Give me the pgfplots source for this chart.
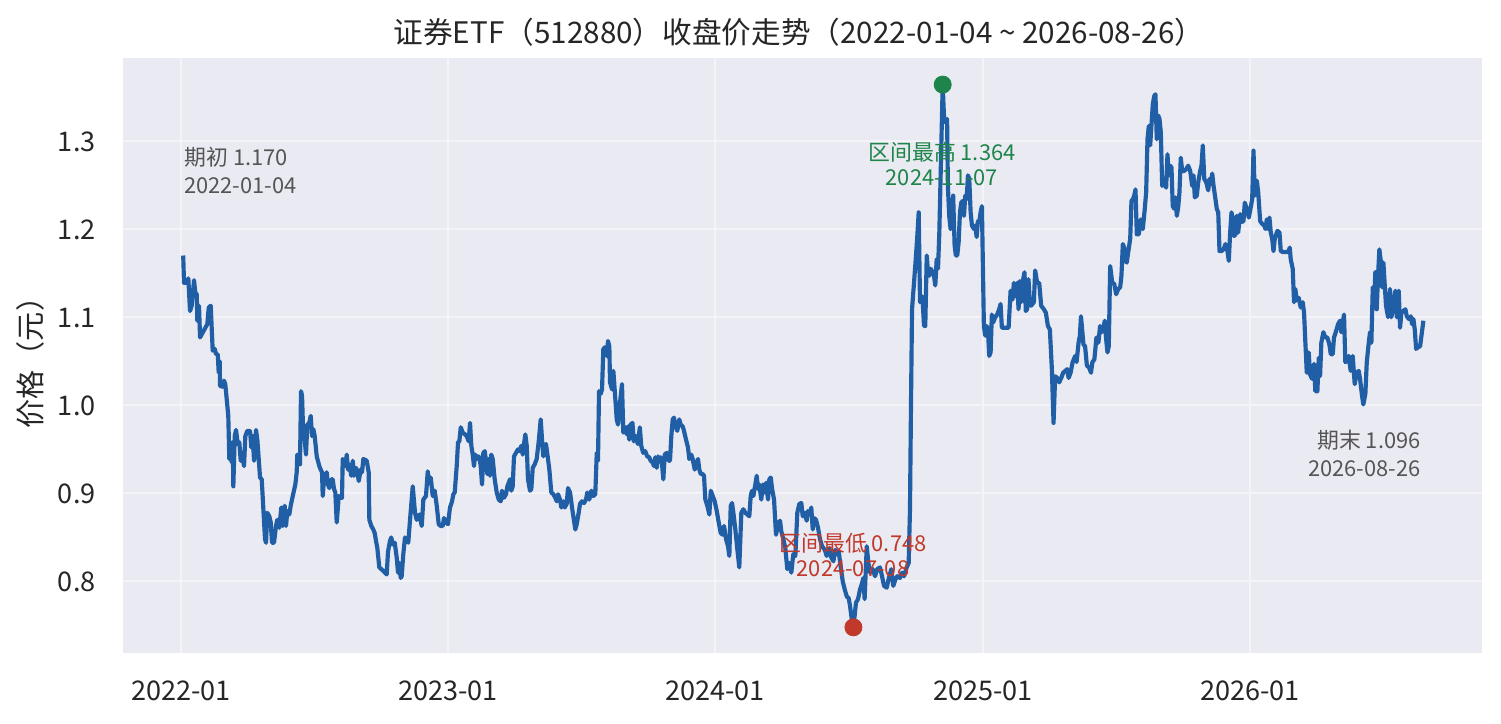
\documentclass[border=0pt]{standalone}
\usepackage{pgfplots}
\pgfplotsset{compat=1.18}
\usepackage{fontspec}
\setmainfont{Noto Sans CJK SC}
\definecolor{bg}{RGB}{234,234,242}
\definecolor{gridc}{RGB}{244,244,248}
\definecolor{lineblue}{RGB}{32,94,166}
\definecolor{hi}{RGB}{30,132,73}
\definecolor{lo}{RGB}{192,57,43}
\definecolor{txt}{RGB}{38,38,38}
\definecolor{ann}{RGB}{85,85,85}
\newcommand\tickfont{\fontsize{13bp}{15.6bp}\selectfont}
\newcommand\annfont{\fontsize{10.5bp}{13.44bp}\selectfont}
\newcommand\annfontb{\fontsize{10.5bp}{12bp}\selectfont}
\begin{document}
\begin{tikzpicture}
\useasboundingbox (-59.04bp,-33.94bp) rectangle (661.44bp,313.58bp);
\begin{axis}[
  at={(0,0)}, anchor=south west,
  scale only axis, width=652.32bp, height=285.74bp,
  xmin=-79.3, xmax=1778.1, ymin=0.7185, ymax=1.3942,
  axis background/.style={fill=bg},
  axis line style={draw=none},
  major tick length=0pt,
  grid=major, major grid style={draw=gridc, line width=0.96bp},
  xtick={0,365,730,1096,1461},
  xticklabels={2022-01,2023-01,2024-01,2025-01,2026-01},
  ytick={0.8,0.9,1.0,1.1,1.2,1.3},
  /pgf/number format/fixed,
  /pgf/number format/fixed zerofill,
  /pgf/number format/precision=1,
  /pgf/number format/assume math mode=true,
  ticklabel style={font=\tickfont, text=txt},
  xticklabel style={anchor=base, inner sep=0pt, yshift=-22.56bp},
  yticklabel style={anchor=base east, inner sep=0pt, xshift=-12.96bp, yshift=-4.9bp},
  clip=false,
]
\addplot[draw=lineblue, line width=2bp, line join=round, mark=none] table {
x y
3 1.170
4.1 1.139
7.8 1.139
10.0 1.144
12.3 1.107
14.6 1.113
17.8 1.142
19.5 1.128
21.5 1.126
22.3 1.096
24.6 1.113
26.0 1.077
35.9 1.092
37.9 1.111
40.6 1.113
43.3 1.062
46.1 1.064
47.8 1.058
50.2 1.058
51.5 1.037
52.9 1.050
53.3 1.022
57.0 1.021
58.8 1.028
60.5 1.024
64.6 0.988
66.0 0.939
67.9 0.957
69.3 0.935
70.7 0.958
71.5 0.908
73.4 0.965
75.2 0.972
77.5 0.956
79.7 0.958
81.6 0.937
83.4 0.946
86.1 0.931
87.9 0.965
90.6 0.971
94.3 0.971
96.1 0.952
98.0 0.965
99.8 0.937
102.5 0.972
104.3 0.961
108.0 0.918
110.3 0.916
114.8 0.848
116.2 0.844
117.9 0.878
120.7 0.874
122.6 0.867
124.4 0.844
127.1 0.844
129.8 0.863
131.6 0.870
134.3 0.861
137.1 0.884
139.0 0.863
141.7 0.886
143.5 0.863
145.3 0.880
148.0 0.876
149.9 0.886
152.7 0.897
156.2 0.910
158.1 0.924
158.9 0.944
160.9 0.933
162.6 0.933
164.0 1.016
165.4 1.011
167.1 0.965
169.1 0.961
170.8 0.944
172.6 0.978
175.3 0.980
177.3 0.988
179.0 0.965
180.8 0.973
182.7 0.965
185.5 0.942
189.0 0.931
190.9 0.927
192.7 0.924
193.7 0.897
195.4 0.916
197.2 0.918
199.1 0.924
200.9 0.910
202.7 0.906
205.4 0.916
207.3 0.916
209.1 0.905
210.9 0.901
212.8 0.867
214.6 0.886
215.5 0.897
218.3 0.895
220.0 0.895
221.0 0.939
222.8 0.937
224.5 0.931
226.5 0.944
228.2 0.927
230.0 0.933
232.7 0.920
234.7 0.937
236.4 0.920
239.2 0.929
241.0 0.925
242.9 0.914
245.6 0.927
247.4 0.924
249.2 0.939
251.9 0.938
253.8 0.937
256.5 0.924
257.4 0.870
260.1 0.863
262.8 0.859
264.7 0.855
266.5 0.846
268.3 0.838
271.0 0.816
276.5 0.812
281.1 0.808
282.9 0.834
285.6 0.846
287.4 0.850
289.3 0.842
292.1 0.844
294.8 0.827
296.6 0.810
298.3 0.821
300.3 0.804
301.6 0.806
303.8 0.831
306.1 0.850
310.6 0.844
313.0 0.870
316.7 0.908
319.8 0.878
322.1 0.870
325.7 0.876
329.0 0.863
331.2 0.893
334.8 0.897
337.2 0.925
339.3 0.912
341.3 0.918
344.0 0.897
346.7 0.903
349.5 0.886
352.2 0.865
354.9 0.863
357.7 0.863
359.4 0.872
362.2 0.867
364.9 0.865
367.6 0.884
370.4 0.891
372.2 0.899
374.1 0.901
376.8 0.931
378.6 0.958
380.4 0.959
382.3 0.975
385.0 0.969
388.1 0.967
390.5 0.965
393.2 0.959
395.0 0.980
396.8 0.954
398.7 0.944
400.4 0.931
402.2 0.944
404.1 0.939
405.9 0.942
407.7 0.941
409.6 0.931
411.4 0.910
413.2 0.946
415.1 0.948
416.8 0.937
418.6 0.922
420.5 0.939
422.3 0.920
424.1 0.944
426.0 0.939
428.7 0.916
431.5 0.901
434.2 0.893
436.9 0.891
438.7 0.903
441.4 0.895
444.2 0.899
446.0 0.908
447.9 0.912
449.6 0.916
451.4 0.903
453.3 0.908
455.1 0.942
457.8 0.946
460.6 0.950
462.4 0.948
465.1 0.954
467.0 0.944
468.8 0.956
470.6 0.967
472.5 0.954
474.2 0.916
477.0 0.903
478.8 0.905
480.7 0.929
483.4 0.933
486.1 0.939
488.9 0.959
491.6 0.984
493.4 0.961
495.2 0.942
497.1 0.954
498.8 0.956
501.6 0.939
503.4 0.927
506.1 0.901
508.9 0.899
511.6 0.895
513.5 0.891
515.3 0.899
518.0 0.893
519.8 0.884
522.6 0.891
524.4 0.884
527.1 0.888
528.9 0.906
531.7 0.901
534.4 0.884
536.2 0.874
538.9 0.859
540.8 0.865
543.5 0.878
545.3 0.888
548.0 0.891
550.8 0.889
553.5 0.893
555.3 0.901
558.0 0.893
560.8 0.903
563.5 0.897
566.2 0.899
568.2 0.946
569.9 0.937
571.3 1.016
573.6 1.013
575.4 1.018
577.2 1.064
579.9 1.066
581.8 1.056
583.6 1.073
585.4 1.067
586.3 1.026
589.1 1.018
590.9 1.039
593.6 1.007
595.5 0.984
597.3 0.978
600.0 1.003
602.7 1.024
604.5 0.969
607.3 0.975
609.2 0.967
610.9 0.976
612.7 0.961
614.3 0.978
617.0 0.980
618.8 0.959
621.6 0.965
624.3 0.956
627.1 0.975
629.0 0.954
631.7 0.946
634.4 0.948
637.2 0.942
639.9 0.941
641.9 0.937
644.7 0.935
646.4 0.931
648.2 0.941
650.1 0.929
651.9 0.942
653.7 0.937
655.6 0.941
657.4 0.933
659.2 0.916
661.1 0.944
663.8 0.946
666.6 0.937
668.3 0.937
670.1 0.965
672.0 0.984
673.8 0.986
675.6 0.976
678.3 0.971
681.0 0.984
682.9 0.978
685.7 0.976
687.4 0.971
690.2 0.961
692.9 0.952
694.7 0.939
697.4 0.944
699.3 0.939
702.1 0.927
703.8 0.933
706.6 0.939
708.4 0.927
710.3 0.922
713.0 0.922
714.8 0.920
716.6 0.893
719.3 0.886
722.1 0.876
724.0 0.903
726.7 0.897
729.4 0.891
732.2 0.880
734.9 0.867
737.6 0.855
740.4 0.853
742.2 0.863
744.9 0.848
747.6 0.840
749.4 0.829
751.3 0.886
753.1 0.889
754.9 0.878
757.6 0.859
760.4 0.836
763.0 0.816
765.8 0.878
768.5 0.882
771.3 0.878
774.0 0.876
776.7 0.874
778.6 0.897
780.4 0.903
782.2 0.897
784.9 0.910
786.8 0.920
788.6 0.905
790.4 0.910
793.1 0.893
795.1 0.910
797.8 0.901
799.5 0.912
802.3 0.893
804.1 0.916
806.0 0.918
807.7 0.906
810.5 0.893
813.2 0.853
815.9 0.865
818.7 0.869
820.4 0.857
823.2 0.848
825.9 0.838
828.6 0.814
831.4 0.821
834.1 0.810
836.8 0.831
839.6 0.829
842.3 0.878
845.0 0.888
847.8 0.889
849.7 0.874
852.4 0.878
855.1 0.869
856.9 0.880
859.7 0.876
861.4 0.884
863.4 0.859
865.1 0.872
867.9 0.870
870.6 0.861
873.3 0.848
876.1 0.840
879.8 0.836
882.5 0.829
886.1 0.838
888.8 0.827
891.6 0.823
894.3 0.836
896.2 0.831
898.9 0.834
901.6 0.817
904.4 0.800
907.1 0.791
909.9 0.783
912.6 0.781
914.4 0.772
916.1 0.761
919.0 0.748
922.5 0.776
925.3 0.780
928.0 0.791
930.8 0.798
932.6 0.804
934.3 0.780
937.2 0.840
939.4 0.821
941.7 0.810
945.4 0.814
948.5 0.806
951.6 0.814
955.3 0.816
958.1 0.806
960.8 0.795
964.5 0.793
968.0 0.806
970.8 0.814
973.5 0.795
976.2 0.802
979.0 0.806
982.6 0.804
985.4 0.810
988.1 0.806
991.8 0.816
994.5 0.821
996.3 0.882
997.7 1.003
999.1 1.109
1001.8 1.139
1004.5 1.170
1006.3 1.192
1008.2 1.219
1010.0 1.117
1012.3 1.124
1013.7 1.117
1015.5 1.090
1017.2 1.090
1019.2 1.170
1020.9 1.151
1022.7 1.147
1024.6 1.155
1027.3 1.151
1029.1 1.147
1030.9 1.136
1032.8 1.166
1034.6 1.155
1036.4 1.196
1041.0 1.364
1043.0 1.323
1045.0 1.321
1047.0 1.325
1048.1 1.249
1049.9 1.215
1051.8 1.200
1053.6 1.204
1055.3 1.238
1057.3 1.181
1059.0 1.170
1060.9 1.170
1062.8 1.185
1064.6 1.219
1066.4 1.230
1068.3 1.232
1070.1 1.215
1071.8 1.238
1073.8 1.234
1075.5 1.261
1077.3 1.257
1079.2 1.219
1081.0 1.204
1083.7 1.200
1085.5 1.204
1087.4 1.191
1089.1 1.209
1090.9 1.208
1092.8 1.219
1094.6 1.226
1097.3 1.090
1099.1 1.079
1101.0 1.090
1102.8 1.086
1104.6 1.056
1106.5 1.060
1108.2 1.103
1110.0 1.094
1112.8 1.100
1115.5 1.103
1118.2 1.109
1120.1 1.115
1121.9 1.088
1126.4 1.088
1131.1 1.088
1133.8 1.130
1136.5 1.120
1138.3 1.139
1140.1 1.124
1142.8 1.139
1144.7 1.109
1146.4 1.141
1148.2 1.117
1150.1 1.139
1152.8 1.151
1154.6 1.107
1156.4 1.109
1158.3 1.143
1160.1 1.117
1161.9 1.113
1163.8 1.115
1165.6 1.117
1167.4 1.153
1170.1 1.139
1172.9 1.139
1175.6 1.113
1179.3 1.109
1182.0 1.105
1184.8 1.090
1187.5 1.086
1190.2 1.041
1192.5 0.980
1194.7 1.033
1197.5 1.031
1200.2 1.026
1203.0 1.031
1205.7 1.037
1208.4 1.039
1211.2 1.041
1213.1 1.031
1215.8 1.037
1218.6 1.049
1222.1 1.056
1224.0 1.049
1226.7 1.071
1228.5 1.079
1230.0 1.101
1233.4 1.069
1235.6 1.067
1238.1 1.045
1241.0 1.043
1243.7 1.037
1245.6 1.049
1248.3 1.052
1251.1 1.077
1253.8 1.071
1256.1 1.090
1258.4 1.083
1260.8 1.088
1262.5 1.096
1264.4 1.075
1266.2 1.060
1268.0 1.067
1269.9 1.158
1272.7 1.139
1275.4 1.138
1278.1 1.126
1280.9 1.132
1283.6 1.134
1285.3 1.147
1287.2 1.183
1289.1 1.179
1290.9 1.164
1292.6 1.162
1294.6 1.174
1297.3 1.189
1299.0 1.232
1300.9 1.234
1302.8 1.238
1304.5 1.245
1306.3 1.194
1309.0 1.194
1311.8 1.211
1314.5 1.200
1317.2 1.223
1319.1 1.242
1320.9 1.302
1322.7 1.317
1324.6 1.295
1326.4 1.319
1328.2 1.342
1330.1 1.351
1331.8 1.353
1333.6 1.302
1335.5 1.329
1337.3 1.325
1339.1 1.310
1341.0 1.249
1343.7 1.253
1346.4 1.247
1348.2 1.285
1350.0 1.261
1351.9 1.272
1353.7 1.270
1355.4 1.226
1357.4 1.223
1359.1 1.236
1361.0 1.215
1362.9 1.225
1364.6 1.242
1366.4 1.281
1368.3 1.266
1371.1 1.266
1373.8 1.268
1376.5 1.272
1379.3 1.266
1382.0 1.249
1383.8 1.261
1385.6 1.236
1388.3 1.238
1390.2 1.253
1392.9 1.266
1394.7 1.272
1396.5 1.295
1398.5 1.257
1401.2 1.253
1403.9 1.244
1405.7 1.257
1407.5 1.251
1409.4 1.263
1411.2 1.249
1413.8 1.234
1415.6 1.223
1417.6 1.219
1419.3 1.175
1422.0 1.175
1424.8 1.177
1427.5 1.183
1430.2 1.175
1432.0 1.164
1433.9 1.196
1435.7 1.219
1437.5 1.211
1439.4 1.192
1441.1 1.194
1442.9 1.215
1444.8 1.196
1447.6 1.217
1449.3 1.208
1452.1 1.209
1453.9 1.230
1456.6 1.223
1459.4 1.213
1462.1 1.225
1464.0 1.234
1465.8 1.289
1467.5 1.238
1470.3 1.255
1472.2 1.242
1474.9 1.209
1477.6 1.206
1480.4 1.204
1482.2 1.200
1483.9 1.211
1485.8 1.200
1487.6 1.213
1489.4 1.196
1491.3 1.189
1493.1 1.175
1494.9 1.189
1496.8 1.194
1498.5 1.198
1501.3 1.196
1503.1 1.175
1505.8 1.174
1509.5 1.174
1513.2 1.174
1515.4 1.179
1516.6 1.166
1519.4 1.155
1521.2 1.117
1523.0 1.132
1524.9 1.119
1527.6 1.122
1530.3 1.111
1533.1 1.117
1534.9 1.105
1536.7 1.071
1538.6 1.037
1541.3 1.060
1543.0 1.035
1545.8 1.030
1548.5 1.047
1550.3 1.016
1553.1 1.016
1555.0 1.054
1556.8 1.033
1558.5 1.071
1561.3 1.083
1564.0 1.077
1566.7 1.077
1569.5 1.069
1571.4 1.058
1574.1 1.058
1575.8 1.077
1578.6 1.084
1581.3 1.092
1584.1 1.096
1585.8 1.083
1587.7 1.094
1589.5 1.103
1591.3 1.049
1593.2 1.050
1595.9 1.056
1598.6 1.039
1601.4 1.056
1604.1 1.024
1606.9 1.037
1609.6 1.039
1611.4 1.030
1614.1 1.011
1615.9 1.001
1618.7 1.013
1620.6 1.049
1623.3 1.071
1625.1 1.083
1626.9 1.071
1628.8 1.134
1630.6 1.115
1632.3 1.151
1634.2 1.109
1636.0 1.147
1637.8 1.177
1639.7 1.164
1641.5 1.134
1643.3 1.162
1645.2 1.136
1646.9 1.113
1649.7 1.100
1652.4 1.132
1654.2 1.100
1656.9 1.111
1659.7 1.130
1661.6 1.100
1664.3 1.130
1666.1 1.088
1667.9 1.105
1670.6 1.107
1673.4 1.109
1675.3 1.101
1678.0 1.098
1680.8 1.101
1682.5 1.092
1684.3 1.098
1686.2 1.086
1688.0 1.064
1690.7 1.066
1693.5 1.067
1698.0 1.096
};
\addplot[only marks, mark=*, mark size=4.1bp, color=hi, mark options={draw=hi, fill=hi}] coordinates {(1041,1.364)};
\addplot[only marks, mark=*, mark size=4.1bp, color=lo, mark options={draw=lo, fill=lo}] coordinates {(919,0.748)};
\node[anchor=west, align=left, inner sep=0pt, text=ann, font=\annfont] at (axis cs:4.1,1.266) {期初 1.170\\2022-01-04};
\node[anchor=center, align=center, inner sep=0pt, text=hi, font=\annfontb] at (axis cs:1040,1.2744) {区间最高 1.364\\2024-11-07};
\node[anchor=center, align=center, inner sep=0pt, text=lo, font=\annfontb] at (axis cs:918.4,0.830) {区间最低 0.748\\2024-07-08};
\node[anchor=east, align=right, inner sep=0pt, text=ann, font=\annfont] at (axis cs:1694.7,0.945) {期末 1.096\\2026-08-26};
\node[anchor=base, inner sep=0pt, text=txt, font=\fontsize{14.23bp}{17bp}\selectfont] at (rel axis cs:0.4974,1.0247) {证券ETF（512880）收盘价走势（2022-01-04 \textasciitilde{} 2026-08-26）};
\node[rotate=90, anchor=center, inner sep=0pt, text=txt, font=\fontsize{14bp}{16.8bp}\selectfont] at (rel axis cs:-0.0681,0.5) {价格（元）};
\end{axis}
\end{tikzpicture}
\end{document}
